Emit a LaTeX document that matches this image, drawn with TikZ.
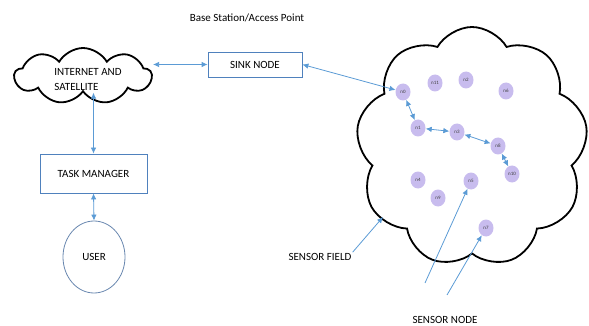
\documentclass[tikz,border=0pt]{standalone}
\usepackage{fontspec}
\setmainfont{Carlito}
\usetikzlibrary{shapes.geometric}
\usetikzlibrary{shapes.symbols}
\usetikzlibrary{arrows.meta}

\definecolor{linkblue}{RGB}{91,155,213}
\definecolor{boxblue}{RGB}{79,129,189}
\definecolor{userblue}{RGB}{105,135,175}
\definecolor{nodefill}{RGB}{200,188,238}

\begin{document}
\begin{tikzpicture}[x=1pt,y=-1pt,>={Latex[length=6pt,width=5.5pt]},
	font=\fontsize{11}{13}\selectfont,
	box node/.style={rectangle,draw=boxblue,line width=0.8pt},
	cloud node/.style={cloud,draw=black,line width=1.8pt,cloud puff arc=120},
	sensor node/.style={ellipse,fill=nodefill,inner sep=0pt,minimum width=15pt,
		minimum height=17pt,text=darkgray,font=\fontsize{5}{5}\selectfont},
	link/.style={color=linkblue,line width=0.8pt}]
	
	\useasboundingbox (0,0) rectangle (589,326);
	
	\node (title) at (247,18) {Base Station/Access Point};
	
	% left side
	\node[cloud node,cloud puffs=9,aspect=2.6,minimum width=137pt,
		minimum height=56pt] (internet) at (83,76) {};
	\node[align=left,font=\fontsize{11}{15}\selectfont] (nettext) at (88,80)
		{INTERNET AND\\SATELLITE};
	\node[box node,minimum width=94pt,minimum height=25pt] (sink) at (255,64.5) {SINK NODE};
	\node[box node,minimum width=107pt,minimum height=39pt] (task) at (93.5,173.5) {TASK MANAGER};
	\node[ellipse,draw=userblue,line width=0.8pt,minimum width=62pt,
		minimum height=72pt] (user) at (94,257) {USER};
	
	% sensor field
	\node[cloud node,cloud puffs=9,aspect=1,minimum width=232pt,
		minimum height=240pt] (field) at (472,147) {};
	\node[sensor node] (n0) at (403,92) {n0};
	\node[sensor node] (n11) at (435,83) {n11};
	\node[sensor node] (n2) at (466,80) {n2};
	\node[sensor node] (n6) at (506,91) {n6};
	\node[sensor node] (n1) at (418,128) {n1};
	\node[sensor node] (n3) at (457,132) {n3};
	\node[sensor node] (n8) at (498,146) {n8};
	\node[sensor node] (n10) at (512,174) {n10};
	\node[sensor node] (n4) at (418,180) {n4};
	\node[sensor node] (n5) at (471,181) {n5};
	\node[sensor node] (n9) at (438,198) {n9};
	\node[sensor node] (n7) at (486,228) {n7};
	
	\node[inner sep=1pt] (fieldlabel) at (320,257) {SENSOR FIELD};
	\node (nodelabel) at (445,320) {SENSOR NODE};
	\coordinate (fieldpt) at (383,217);
	\coordinate (s1) at (425,283);
	\coordinate (s2) at (447,295);
	
	\path[link,<->]
	(sink.west) edge (internet.east |- sink.west)
	(task.north) edge (task.north |- internet.south)
	(task.south) edge (user.north)
	(n0) edge (sink.east)
	(n0) edge (n1)
	(n1) edge (n3)
	(n3) edge (n8)
	(n8) edge (n10);
	
	\path[link,->]
	(fieldlabel.north east) edge (fieldpt)
	(s1) edge (n5)
	(s2) edge (n7);
\end{tikzpicture}
\end{document}
